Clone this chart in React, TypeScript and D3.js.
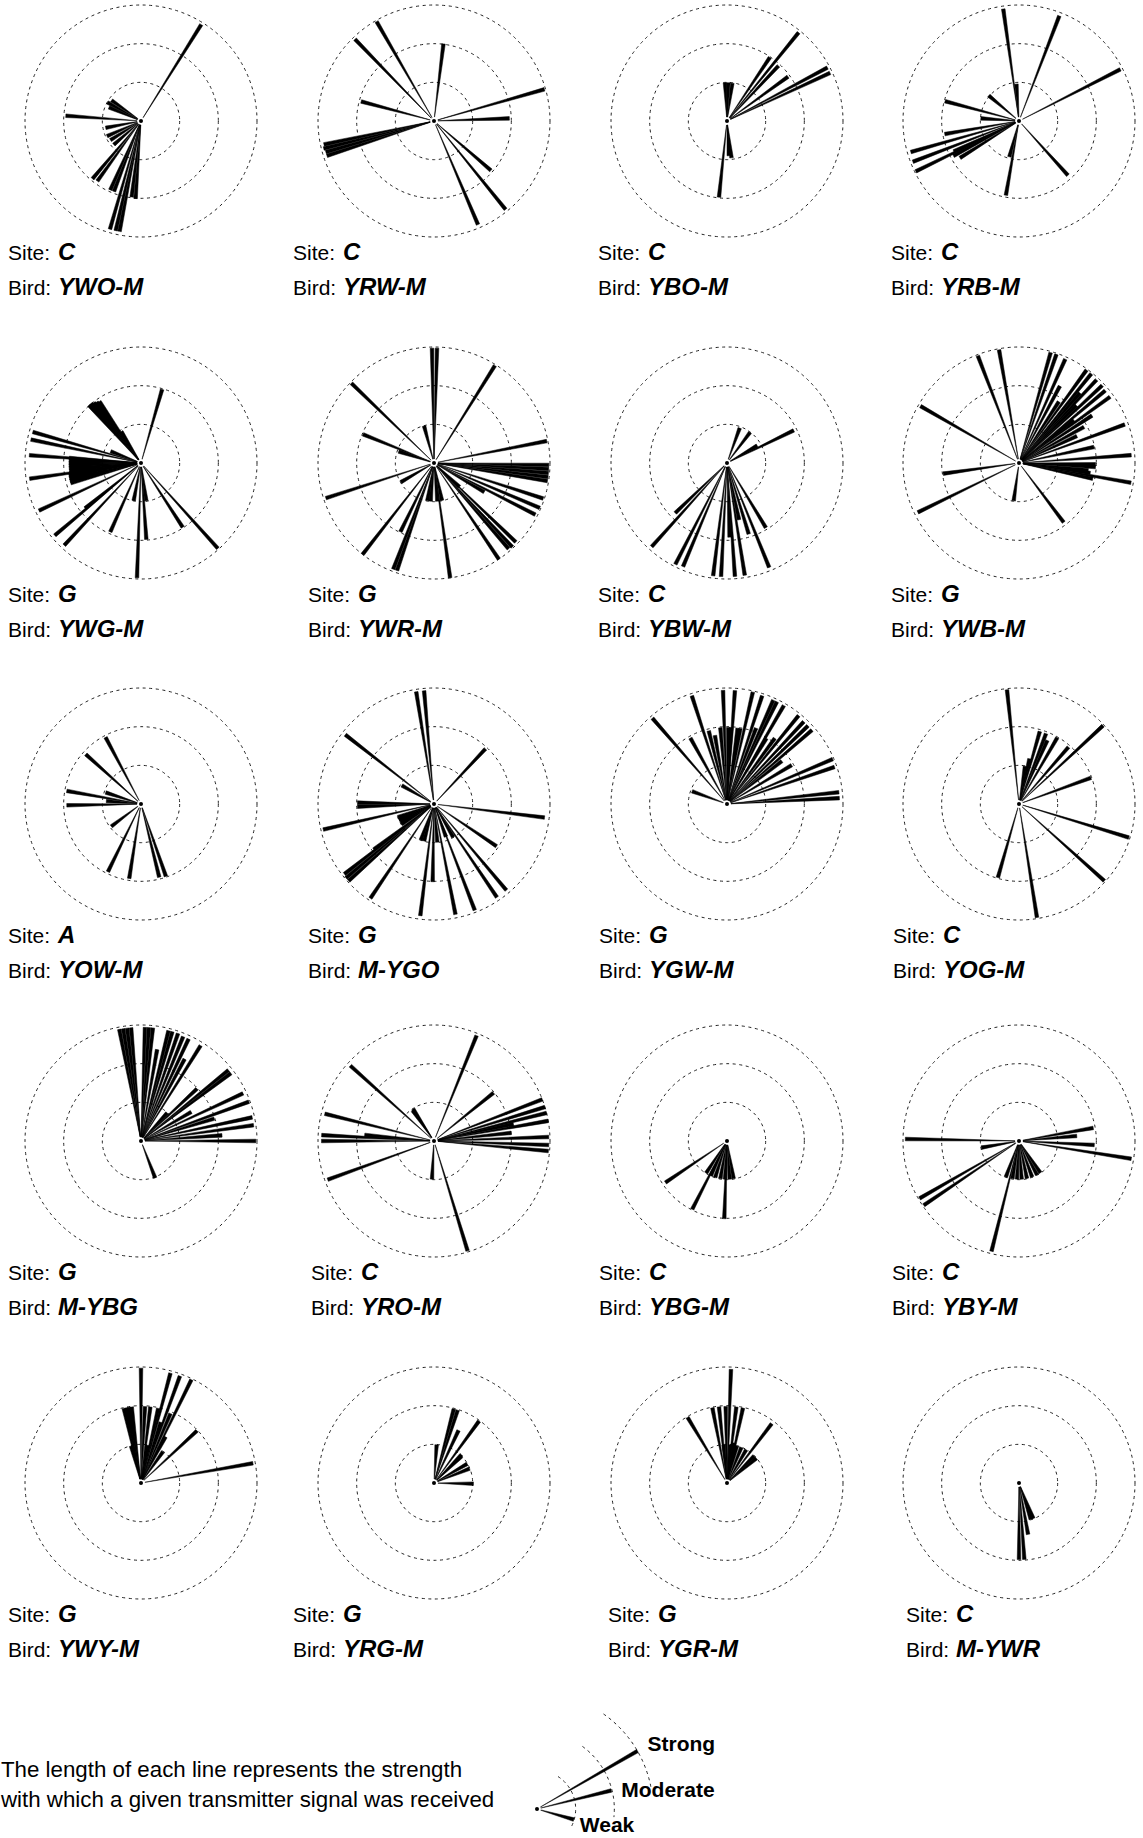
import { useRef, useEffect } from 'react'
import * as d3 from 'd3'

type Bearing = [number, number] // [degrees clockwise from north, signal strength 0..1]

const siteCodes = ['C', 'C', 'C', 'C', 'G', 'G', 'C', 'G', 'A', 'G', 'G', 'C', 'G', 'C', 'C', 'C', 'G', 'G', 'G', 'C']
const birdIds = [
  'YWO-M', 'YRW-M', 'YBO-M', 'YRB-M',
  'YWG-M', 'YWR-M', 'YBW-M', 'YWB-M',
  'YOW-M', 'M-YGO', 'YGW-M', 'YOG-M',
  'M-YBG', 'YRO-M', 'YBG-M', 'YBY-M',
  'YWY-M', 'YRG-M', 'YGR-M', 'M-YWR'
]

const ywoM: Bearing[] = [
  [32, 0.98], [299, 0.33], [293, 0.3], [305, 0.31], [274, 0.65], [259, 0.31], [246, 0.32], [238, 0.31],
  [229, 0.31], [220, 0.65], [216, 0.64], [204, 0.65], [201, 0.65], [187, 0.66], [184, 0.67],
  [196, 0.97], [193, 0.97], [191, 0.97]
]
const yrwM: Bearing[] = [
  [330, 0.99], [316, 0.98], [7, 0.67], [285, 0.65], [74, 0.99], [88, 0.65], [258, 0.97], [256, 0.98],
  [254, 0.97], [252, 0.97], [131, 0.65], [141, 0.98], [157, 0.97]
]
const yboM: Bearing[] = [
  [39, 0.98], [34, 0.66], [43, 0.65], [54, 0.65], [62, 0.98], [65, 0.98], [357, 0.33], [2, 0.33],
  [8, 0.33], [186, 0.66], [173, 0.32], [177, 0.3]
]
const yrbM: Bearing[] = [
  [352, 0.975], [21, 0.97], [63, 0.98], [356, 0.32], [285, 0.66], [310, 0.34], [274, 0.33], [260, 0.65],
  [254, 0.97], [249, 0.98], [244, 0.99], [242, 0.64], [245, 0.62], [238, 0.6], [138, 0.63], [190, 0.65],
  [195, 0.32]
]
const ywgM: Bearing[] = [
  [16, 0.66], [318, 0.67], [320, 0.67], [322, 0.66], [324, 0.65], [326, 0.64], [328, 0.32], [291, 0.28],
  [286, 0.97], [282, 0.97], [274, 0.965], [274, 0.62], [272, 0.62], [270, 0.62], [268, 0.62], [266, 0.62],
  [264, 0.62], [262, 0.62], [260, 0.63], [258, 0.63], [256, 0.63], [254, 0.63], [262, 0.97], [245, 0.97],
  [230, 0.97], [223, 0.97], [231, 0.62], [204, 0.65], [191, 0.33], [182, 0.99], [176, 0.66], [172, 0.33],
  [147, 0.66], [138, 0.99]
]
const ywrM: Bearing[] = [
  [359, 0.99], [1.5, 0.99], [32, 0.99], [314, 0.99], [345, 0.33], [292, 0.66], [288, 0.32], [79, 0.99],
  [91, 0.99], [93, 0.99], [95, 0.99], [97, 0.99], [99, 0.99], [108, 0.99], [113, 0.99], [117, 0.98],
  [134, 0.98], [137, 0.99], [139, 0.98], [146, 1.0], [172, 1.0], [199, 0.98], [201, 0.98], [218, 1.0],
  [252, 0.98], [240, 0.33], [206, 0.66], [190, 0.33], [185, 0.33], [175, 0.33], [168, 0.33], [133, 0.3],
  [120, 0.5]
]
const ybwM: Bearing[] = [
  [20, 0.32], [37, 0.33], [64, 0.64], [60, 0.3], [222, 0.97], [226, 0.62], [207, 0.98], [203, 0.97],
  [187, 0.98], [183, 0.98], [176, 0.98], [171, 0.98], [158, 0.97], [149, 0.65], [178, 0.64], [163, 0.64],
  [168, 0.5]
]
const ywbM: Bearing[] = [
  [339, 0.99], [350, 0.99], [300, 0.98], [262, 0.66], [244, 0.97], [188, 0.33], [143, 0.64],
  [16, 0.99], [19, 0.99], [24, 0.98], [36, 0.99], [39, 0.99], [43, 0.98], [47, 0.98], [50, 0.97],
  [54, 0.97], [70, 0.97], [86, 0.97], [100, 0.98], [33, 0.63], [61, 0.64], [78, 0.66], [91, 0.66],
  [93, 0.66], [102, 0.65], [28, 0.75], [41, 0.8], [45, 0.7], [52, 0.6], [57, 0.75], [65, 0.55],
  [96, 0.6], [98, 0.62]
]
const yowM: Bearing[] = [
  [332, 0.65], [312, 0.64], [280, 0.65], [288, 0.32], [269, 0.64], [233, 0.32], [206, 0.65], [189, 0.65],
  [166, 0.65], [161, 0.66], [275, 0.3]
]
const mYgo: Bearing[] = [
  [351, 0.98], [355, 0.98], [308, 0.97], [43, 0.65], [300, 0.32], [97, 0.96], [271, 0.66], [268, 0.66],
  [257, 0.98], [250, 0.33], [246, 0.33], [242, 0.33], [238, 0.33], [233, 0.65], [228, 0.99], [230, 0.99],
  [232, 0.98], [214, 0.98], [200, 0.33], [195, 0.33], [187, 0.97], [181, 0.67], [169, 0.97], [159, 0.98],
  [146, 0.97], [140, 0.97], [124, 0.65], [150, 0.33], [175, 0.33], [160, 0.3]
]
const ygwM: Bearing[] = [
  [290, 0.32], [319, 0.98], [342, 0.98], [331, 0.65], [346, 0.65], [358, 0.98], [4, 0.98], [355, 0.66],
  [1, 0.66], [3, 0.66], [13, 0.99], [18, 0.98], [24, 0.98], [26, 0.98], [30, 0.98], [39, 0.98],
  [43, 0.97], [46, 0.97], [49, 0.97], [67, 0.99], [71, 0.98], [84, 0.97], [87, 0.97], [31, 0.66],
  [59, 0.65], [8, 0.66], [10, 0.66], [21, 0.7], [36, 0.7], [52, 0.6], [350, 0.6]
]
const yogM: Bearing[] = [
  [354, 0.99], [16, 0.65], [21, 0.65], [30, 0.66], [41, 0.65], [9, 0.33], [47, 0.99], [70, 0.66],
  [107, 0.99], [132, 0.99], [171, 0.99], [196, 0.66], [24, 0.6], [13, 0.4]
]
const mYbg: Bearing[] = [
  [349, 0.98], [351, 0.98], [353, 0.98], [355, 0.98], [2, 0.98], [4, 0.98], [6, 0.98], [14, 0.98],
  [16, 0.98], [19, 0.98], [22, 0.97], [25, 0.97], [32, 0.97], [51, 0.97], [53, 0.97], [47, 0.66],
  [65, 0.97], [70, 0.99], [43, 0.33], [73, 0.66], [78, 0.98], [82, 0.98], [90, 0.99], [159, 0.34],
  [60, 0.5], [28, 0.8], [10, 0.8], [86, 0.7]
]
const yroM: Bearing[] = [
  [22, 0.98], [312, 0.97], [327, 0.33], [325, 0.32], [51, 0.66], [284, 0.97], [273, 0.97], [270, 0.97],
  [250, 0.975], [183, 0.33], [163, 0.99], [69, 1.0], [73, 1.0], [76, 1.0], [80, 1.0], [84, 0.67],
  [88, 0.99], [92, 0.99], [95, 0.99], [78, 0.7], [275, 0.6]
]
const ybgM: Bearing[] = [
  [236, 0.64], [207, 0.66], [182, 0.67], [213, 0.33], [205, 0.33], [198, 0.33], [190, 0.33], [183, 0.33],
  [176, 0.33], [170, 0.33]
]
const ybyM: Bearing[] = [
  [271, 0.98], [260, 0.33], [80, 0.65], [93, 0.65], [99, 0.98], [240, 0.99], [236, 0.99], [194, 0.98],
  [200, 0.33], [190, 0.33], [183, 0.33], [176, 0.33], [168, 0.33], [160, 0.33], [152, 0.33], [146, 0.33],
  [85, 0.5]
]
const ywyM: Bearing[] = [
  [0, 0.99], [15, 0.98], [20, 0.98], [26, 0.99], [347, 0.66], [349, 0.66], [351, 0.66], [353, 0.66],
  [3, 0.66], [7, 0.66], [13, 0.66], [23, 0.65], [47, 0.66], [80, 0.98], [345, 0.33], [35, 0.33],
  [10, 0.33], [18, 0.55], [28, 0.45]
]
const yrgM: Bearing[] = [
  [4, 0.33], [15, 0.66], [18, 0.66], [36, 0.66], [44, 0.34], [46, 0.33], [60, 0.33], [68, 0.33],
  [91, 0.34], [25, 0.5]
]
const ygrM: Bearing[] = [
  [2, 0.98], [329, 0.66], [349, 0.66], [354, 0.66], [359, 0.66], [7, 0.66], [12, 0.66], [37, 0.64],
  [355, 0.33], [5, 0.33], [15, 0.33], [22, 0.33], [30, 0.33], [45, 0.33], [50, 0.33], [10, 0.35]
]
const mYwr: Bearing[] = [[180, 0.66], [176, 0.66], [158, 0.33], [162, 0.33], [170, 0.45]]

const bearingsByBird = [
  ywoM, yrwM, yboM, yrbM, ywgM, ywrM, ybwM, ywbM, yowM, mYgo,
  ygwM, yogM, mYbg, yroM, ybgM, ybyM, ywyM, yrgM, ygrM, mYwr
]

const ringLevels = [1 / 3, 2 / 3, 1]
const legendLabels = ['Weak', 'Moderate', 'Strong']
const legendBearings: Bearing[] = [[106, 0.33], [76, 0.66], [60, 1]]
const captionLines = [
  'The length of each line represents the strength',
  'with which a given transmitter signal was received'
]

// layout
const WIDTH = 1143
const HEIGHT = 1838
const R = 116
const COL_X = [141, 434, 727, 1019]
const ROW_Y = [121, 463, 804, 1141, 1483]
const LABEL_X = [
  8, 293, 598, 891,
  8, 308, 598, 891,
  8, 308, 599, 893,
  8, 311, 599, 892,
  8, 293, 608, 906
]
const LEGEND = { x: 537, y: 1809 }
const LEGEND_ARCS = [[33, 120], [36, 96], [35, 80]] // compass span of each ring, inner to outer
const LEGEND_LABEL_OFFSET = [[6, 12], [10, 7], [10, 0]]
const FONT = '"Liberation Sans", Arial, Helvetica, sans-serif'
const DASH = '3 3.6'

export default function App() {
  const svgRef = useRef<SVGSVGElement>(null)

  useEffect(() => {
    if (!svgRef.current) return
    const svg = d3.select(svgRef.current)
    svg.selectAll('*').remove()

    const radius = d3.scaleLinear().domain([0, 1]).range([0, R])
    const angle = d3.scaleLinear().domain([0, 360]).range([0, 2 * Math.PI])

    // each signal is drawn as a thin wedge, a few px wide at its tip
    const wedge = d3.arc<Bearing>()
      .innerRadius(4)
      .outerRadius(d => radius(d[1]))
      .startAngle(d => angle(d[0]) - 1.8 / radius(d[1]))
      .endAngle(d => angle(d[0]) + 1.8 / radius(d[1]))

    bearingsByBird.forEach((bearings, i) => {
      const cx = COL_X[i % 4]
      const cy = ROW_Y[Math.floor(i / 4)]
      const g = svg.append('g').attr('transform', `translate(${cx},${cy})`)

      g.selectAll('circle.ring')
        .data(ringLevels)
        .join('circle')
        .attr('class', 'ring')
        .attr('r', d => radius(d))
        .attr('fill', 'none')
        .attr('stroke', '#222')
        .attr('stroke-width', 1)
        .attr('stroke-dasharray', DASH)

      g.selectAll('path.ray')
        .data(bearings)
        .join('path')
        .attr('class', 'ray')
        .attr('d', wedge)
        .attr('fill', '#000')
        .attr('stroke', '#000')
        .attr('stroke-width', 0.5)

      g.append('circle').attr('r', 2).attr('fill', '#000')

      const lx = LABEL_X[i]
      const rows = [['Site:', siteCodes[i]], ['Bird:', birdIds[i]]]
      rows.forEach(([key, value], j) => {
        const y = cy + 139 + j * 35
        svg.append('text')
          .attr('x', lx).attr('y', y)
          .attr('font-family', FONT).attr('font-size', 21)
          .text(key)
        svg.append('text')
          .attr('x', lx + 50).attr('y', y)
          .attr('font-family', FONT).attr('font-size', 24)
          .attr('font-weight', 'bold').attr('font-style', 'italic')
          .text(value)
      })
    })

    // legend
    const lg = svg.append('g').attr('transform', `translate(${LEGEND.x},${LEGEND.y})`)
    ringLevels.forEach((level, k) => {
      const [a0, a1] = LEGEND_ARCS[k]
      const p = d3.path()
      const r = radius(level)
      const t0 = angle(a0) - Math.PI / 2
      const t1 = angle(a1) - Math.PI / 2
      p.moveTo(r * Math.cos(t0), r * Math.sin(t0))
      p.arc(0, 0, r, t0, t1)
      lg.append('path')
        .attr('d', p.toString())
        .attr('fill', 'none')
        .attr('stroke', '#222')
        .attr('stroke-width', 1)
        .attr('stroke-dasharray', DASH)
    })
    lg.selectAll('path.ray')
      .data(legendBearings)
      .join('path')
      .attr('class', 'ray')
      .attr('d', wedge)
      .attr('fill', '#000')
      .attr('stroke', '#000')
      .attr('stroke-width', 0.5)
    lg.append('circle').attr('r', 2).attr('fill', '#000')
    legendBearings.forEach((d, k) => {
      const t = angle(d[0]) - Math.PI / 2
      const r = radius(d[1])
      lg.append('text')
        .attr('x', r * Math.cos(t) + LEGEND_LABEL_OFFSET[k][0])
        .attr('y', r * Math.sin(t) + LEGEND_LABEL_OFFSET[k][1])
        .attr('font-family', FONT).attr('font-size', 21).attr('font-weight', 'bold')
        .text(legendLabels[k])
    })

    captionLines.forEach((line, k) => {
      svg.append('text')
        .attr('x', 1).attr('y', 1777 + k * 30)
        .attr('font-family', FONT).attr('font-size', 22.3)
        .text(line)
    })
  }, [])

  return (
    <svg
      ref={svgRef}
      width={WIDTH}
      height={HEIGHT}
      style={{ position: 'absolute', left: 0, top: 0, background: '#fff' }}
    />
  )
}
